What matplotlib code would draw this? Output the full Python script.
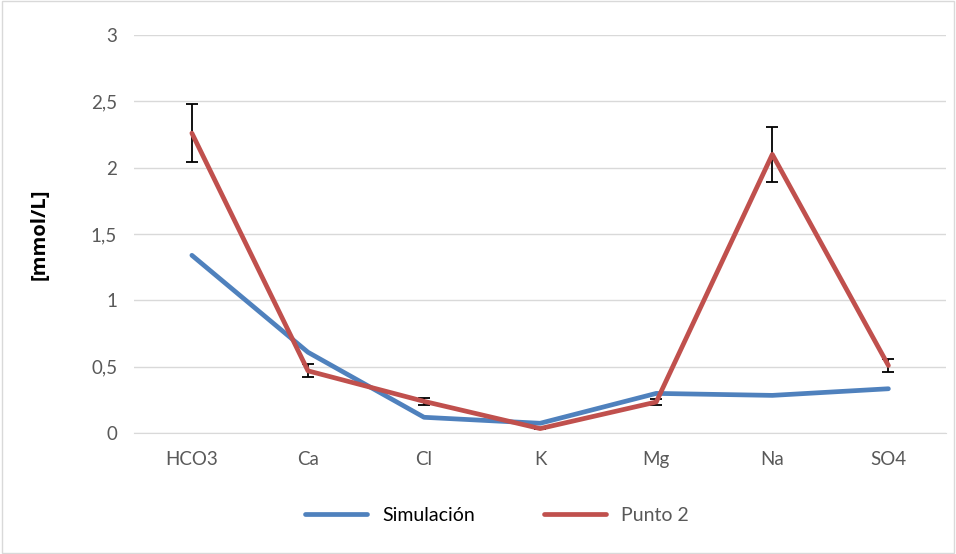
import numpy as np
import matplotlib.pyplot as plt
from matplotlib.ticker import FuncFormatter

ions = ['HCO3', 'Ca', 'Cl', 'K', 'Mg', 'Na', 'SO4']
simulacion = [1.34, 0.61, 0.12, 0.075, 0.30, 0.285, 0.335]
punto2 = [2.26, 0.47, 0.24, 0.035, 0.235, 2.10, 0.51]
punto2_err = [0.22, 0.05, 0.025, 0.0, 0.025, 0.21, 0.05]

plt.rcParams['font.family'] = ['Lato', 'DejaVu Sans']

fig = plt.figure(figsize=(9.56, 5.54), dpi=100)
ax = fig.add_axes([0.140, 0.218, 0.850, 0.719])

x = np.arange(len(ions))
ax.errorbar(x, punto2, yerr=punto2_err, fmt='none', ecolor='black',
            elinewidth=1.3, capsize=4.5, capthick=1.3, zorder=2)
l1, = ax.plot(x, simulacion, color='#4F81BD', lw=3.4, solid_capstyle='round', zorder=3)
l2, = ax.plot(x, punto2, color='#C0504D', lw=3.4, solid_capstyle='round', zorder=4)

ax.set_xlim(-0.5, len(ions) - 0.5)
ax.set_ylim(0, 3)
ax.set_yticks(np.arange(0, 3.01, 0.5))
ax.yaxis.set_major_formatter(FuncFormatter(lambda v, p: f'{v:g}'.replace('.', ',')))
ax.set_xticks(x)
ax.set_xticklabels(ions)
ax.grid(axis='y', color='#D9D9D9', lw=1)
ax.set_axisbelow(True)
for s in ['top', 'right', 'left']:
    ax.spines[s].set_visible(False)
ax.spines['bottom'].set_color('#D9D9D9')
ax.tick_params(length=0, labelsize=13.5, colors='#595959', pad=12)
ax.tick_params(axis='x', pad=13)
ax.set_ylabel('[mmol/L]', fontsize=14.5, fontweight='bold', family=['Open Sans', 'DejaVu Sans'],
              labelpad=30)

leg = fig.legend([l1, l2], ['Simulación', 'Punto 2'], loc='center',
                 bbox_to_anchor=(0.52, 0.07), ncol=2, frameon=False,
                 fontsize=14, handlelength=3.2, columnspacing=3.5)
leg.get_texts()[0].set_color('black')
leg.get_texts()[1].set_color('#595959')

fig.patches.append(plt.Rectangle((0.002, 0.002), 0.996, 0.996, transform=fig.transFigure,
                                 fill=False, edgecolor='#D9D9D9', lw=1))

fig.savefig('out.png', dpi=100)
